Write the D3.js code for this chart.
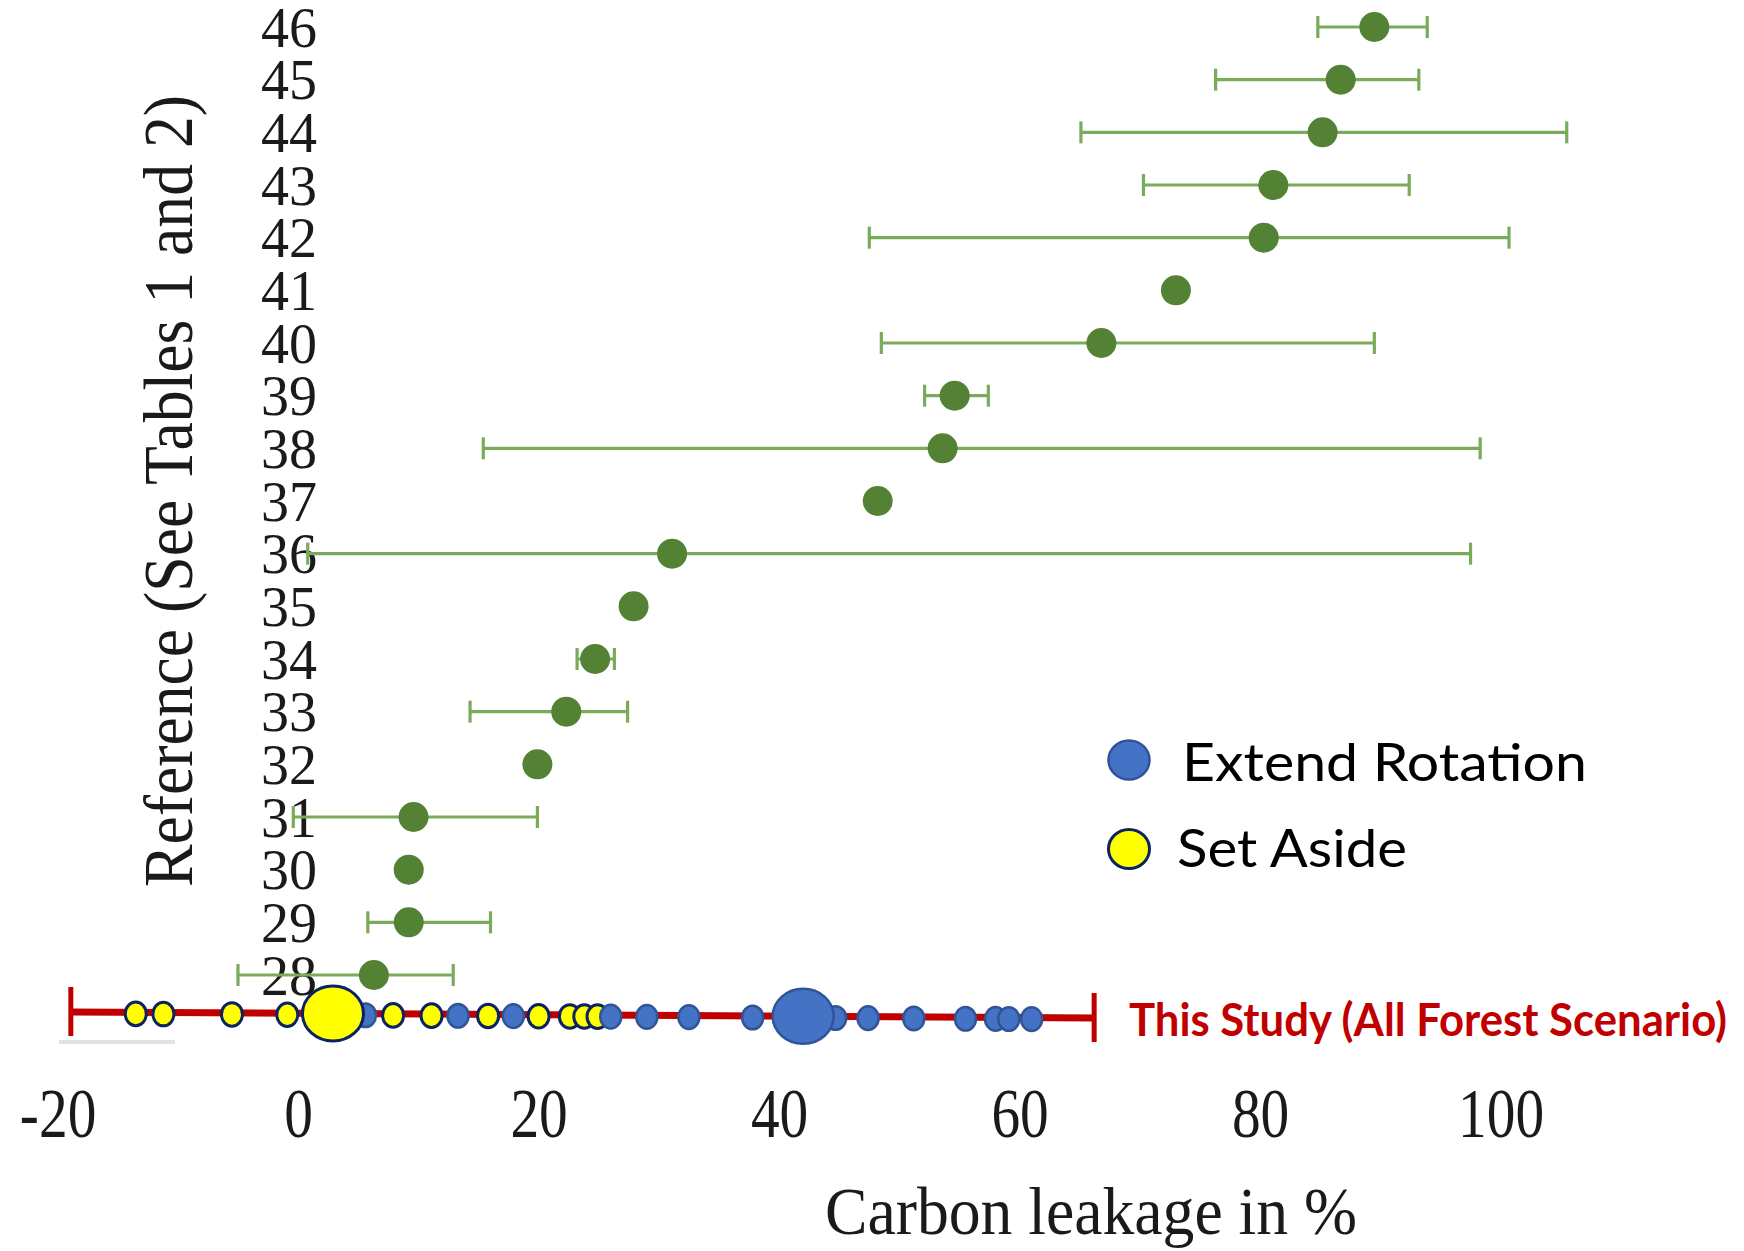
<!DOCTYPE html>
<html>
<head>
<meta charset="utf-8">
<script src="https://cdn.jsdelivr.net/npm/d3@7"></script>
<style>
  html, body { margin: 0; padding: 0; background: #fff; }
  svg { display: block; }
</style>
</head>
<body>
<script>
// ---- Data ----
const refs  = ["46","45","44","43","42","41","40","39","38","37","36","35","34","33","32","31","30","29","28"];
const means = [89.5, 86.7, 85.2, 81.1, 80.3, 73.0, 66.8, 54.6, 53.6, 48.2, 31.1, 27.9, 24.7, 22.3, 19.9, 9.6, 9.2, 9.2, 6.3];
const lows  = [84.8, 76.3, 65.1, 70.3, 47.5, null, 48.5, 52.1, 15.4, null, 0.8, null, 23.2, 14.3, null, -0.4, null, 5.8, -5.0];
const highs = [93.9, 93.2, 105.5, 92.4, 100.7, null, 89.5, 57.4, 98.3, null, 97.5, null, 26.3, 27.4, null, 19.9, null, 16.0, 12.9];

const xTicks = [-20, 0, 20, 40, 60, 80, 100];

// This study (All Forest Scenario)
const studyRange = [-18.9, 66.2];
const setAsideRuns = [-13.5, -11.2, -5.5, -0.9, 7.9, 11.1, 15.8, 20.0, 22.6, 23.8, 24.9];
const extendRotationRuns = [5.6, 13.3, 17.9, 26.0, 29.0, 32.5, 37.8, 44.7, 47.4, 51.2, 55.5, 58.0, 59.1, 61.0];
const setAsideCentral = [2.9];
const extendRotationCentral = [42.0];

const legendLabels = ["Extend Rotation", "Set Aside"];
const studyLabel = "This Study (All Forest Scenario)";
const xTitle = "Carbon leakage in %";
const yTitle = "Reference (See Tables 1 and 2)";

// ---- Layout ----
const W = 1744, H = 1251;
const svg = d3.select("body").append("svg").attr("width", W).attr("height", H);

const x = d3.scaleLinear().domain([-20, 100]).range([57.6, 1500.6]);
const y = d3.scalePoint().domain(refs).range([27, 975]);

const serif = "'Liberation Serif', 'Times New Roman', serif";
const sans = "Lato, 'Open Sans', 'Noto Sans', sans-serif";
const barColor = "#7aab5a";
const dotColor = "#548235";

// Y tick labels (drawn under the error bars)
const yAxis = d3.axisLeft(y).tickSize(0).tickPadding(0);
const gy = svg.append("g").attr("transform", "translate(317,0)").call(yAxis);
gy.select(".domain").remove();
gy.selectAll("text")
  .attr("x", 0).attr("dy", null).attr("y", 19)
  .attr("text-anchor", "end")
  .attr("font-family", serif).attr("font-size", 56).attr("fill", "#1a1a1a");

// Error bars
const rows = refs.map((r, i) => ({ r, m: means[i], lo: lows[i], hi: highs[i] }));
const bars = svg.append("g").selectAll("g").data(rows.filter(d => d.lo !== null)).join("g")
  .attr("stroke", barColor).attr("stroke-width", 3.2);
bars.append("line")
  .attr("x1", d => x(d.lo)).attr("x2", d => x(d.hi))
  .attr("y1", d => y(d.r)).attr("y2", d => y(d.r));
bars.append("line")
  .attr("x1", d => x(d.lo)).attr("x2", d => x(d.lo))
  .attr("y1", d => y(d.r) - 11).attr("y2", d => y(d.r) + 11);
bars.append("line")
  .attr("x1", d => x(d.hi)).attr("x2", d => x(d.hi))
  .attr("y1", d => y(d.r) - 11).attr("y2", d => y(d.r) + 11);

// Means
svg.append("g").selectAll("circle").data(rows).join("circle")
  .attr("cx", d => x(d.m)).attr("cy", d => y(d.r)).attr("r", 15)
  .attr("fill", dotColor);

// X axis tick labels
const xAxis = d3.axisBottom(x).tickValues(xTicks).tickSize(0).tickFormat(d3.format("d"));
const gx = svg.append("g").attr("transform", "translate(0,1137)").call(xAxis);
gx.select(".domain").remove();
gx.selectAll(".tick text")
  .attr("y", 0).attr("dy", null)
  .attr("transform", "scale(0.82,1)")
  .attr("font-family", serif).attr("font-size", 70).attr("fill", "#1a1a1a")
  .text(d => d < 0 ? "-" + Math.abs(d) : d);

// Axis titles
svg.append("text")
  .attr("x", 1091).attr("y", 1234).attr("text-anchor", "middle")
  .attr("font-family", serif).attr("font-size", 68).attr("fill", "#1a1a1a")
  .attr("textLength", 532).attr("lengthAdjust", "spacingAndGlyphs")
  .text(xTitle);
svg.append("text")
  .attr("transform", "translate(192,491) rotate(-90)")
  .attr("text-anchor", "middle")
  .attr("font-family", serif).attr("font-size", 70).attr("fill", "#1a1a1a")
  .attr("textLength", 792).attr("lengthAdjust", "spacingAndGlyphs")
  .text(yTitle);

// faint remnant axis line
svg.append("line").attr("x1", 59).attr("x2", 175).attr("y1", 1042).attr("y2", 1042)
  .attr("stroke", "#e2e2e2").attr("stroke-width", 4);

// ---- This study strip ----
const sy = d3.scaleLinear().domain(studyRange).range([1012, 1018]);
const red = "#c00000";
const strip = svg.append("g");
strip.append("line")
  .attr("x1", x(studyRange[0])).attr("x2", x(studyRange[1]))
  .attr("y1", sy(studyRange[0])).attr("y2", sy(studyRange[1]))
  .attr("stroke", red).attr("stroke-width", 7);
strip.selectAll("line.cap").data(studyRange).join("line").attr("class", "cap")
  .attr("x1", d => x(d)).attr("x2", d => x(d))
  .attr("y1", d => sy(d) - 25).attr("y2", d => sy(d) + 24)
  .attr("stroke", red).attr("stroke-width", 5);

const styles = {
  sa: { fill: "#ffff00", stroke: "#0b2461", sw: 3 },
  er: { fill: "#4472c4", stroke: "#2f5597", sw: 2.5 }
};
const small = setAsideRuns.map(v => ({ v, t: "sa" }))
  .concat(extendRotationRuns.map(v => ({ v, t: "er" })))
  .sort((a, b) => a.v - b.v);
strip.append("g").selectAll("ellipse").data(small).join("ellipse")
  .attr("cx", d => x(d.v)).attr("cy", d => sy(d.v) + 1.5)
  .attr("rx", 10.5).attr("ry", 11.8)
  .attr("fill", d => styles[d.t].fill)
  .attr("stroke", d => styles[d.t].stroke)
  .attr("stroke-width", d => styles[d.t].sw);
const big = setAsideCentral.map(v => ({ v, t: "sa" }))
  .concat(extendRotationCentral.map(v => ({ v, t: "er" })));
strip.append("g").selectAll("ellipse").data(big).join("ellipse")
  .attr("cx", d => x(d.v)).attr("cy", d => sy(d.v))
  .attr("rx", 30.5).attr("ry", 27.5)
  .attr("fill", d => styles[d.t].fill)
  .attr("stroke", d => styles[d.t].stroke)
  .attr("stroke-width", d => styles[d.t].sw);

svg.append("text")
  .attr("x", 1129).attr("y", 1036)
  .attr("font-family", sans).attr("font-weight", "bold").attr("font-size", 46)
  .attr("fill", red)
  .attr("textLength", 598).attr("lengthAdjust", "spacingAndGlyphs")
  .text(studyLabel);

// ---- Legend ----
const legend = [
  { label: legendLabels[0], t: "er", cy: 760, tx: 1182, ty: 781, w: 405 },
  { label: legendLabels[1], t: "sa", cy: 849, tx: 1177, ty: 867, w: 230 }
];
const lg = svg.append("g").selectAll("g").data(legend).join("g");
lg.append("ellipse")
  .attr("cx", 1129).attr("cy", d => d.cy).attr("rx", 20.5).attr("ry", 19.5)
  .attr("fill", d => styles[d.t].fill)
  .attr("stroke", d => styles[d.t].stroke)
  .attr("stroke-width", d => styles[d.t].sw);
lg.append("text")
  .attr("x", d => d.tx).attr("y", d => d.ty)
  .attr("font-family", sans).attr("font-size", 52).attr("fill", "#000")
  .attr("textLength", d => d.w).attr("lengthAdjust", "spacingAndGlyphs")
  .text(d => d.label);
</script>
</body>
</html>
